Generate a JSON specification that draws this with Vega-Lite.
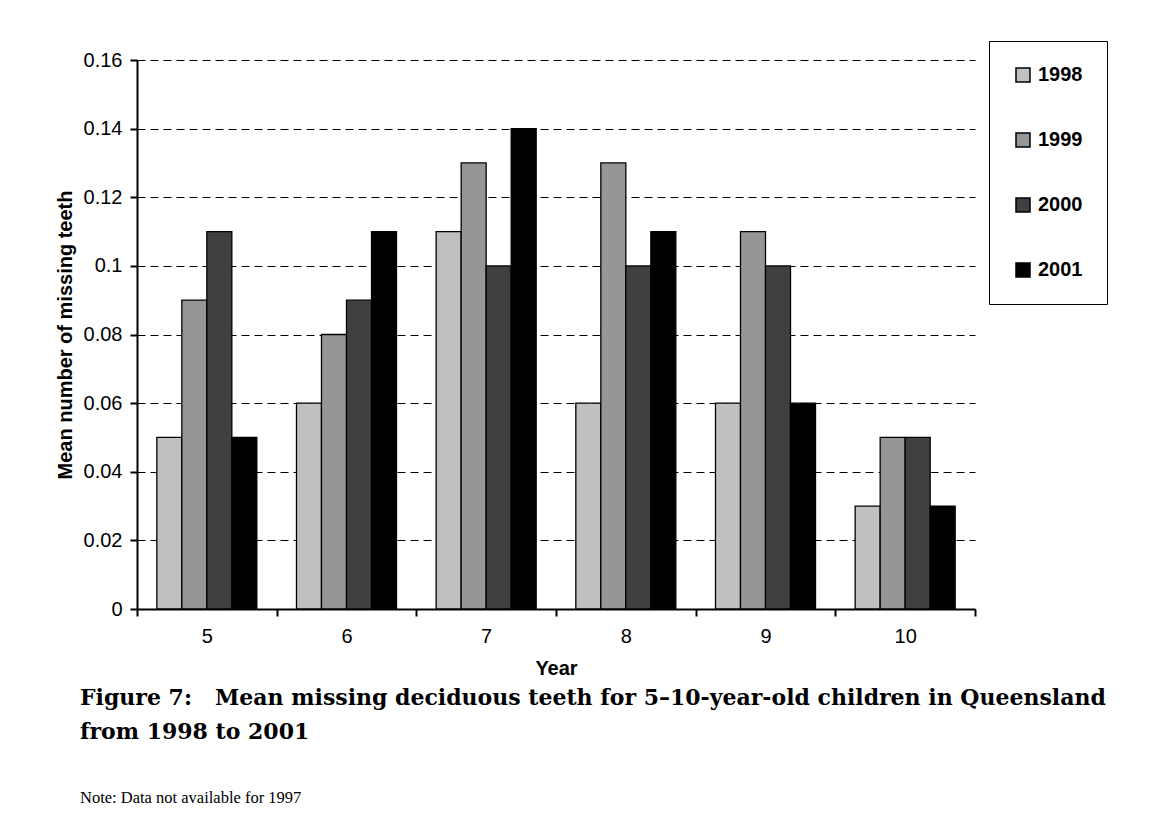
{
  "$schema": "https://vega.github.io/schema/vega-lite/v6.json",
  "width": 838,
  "height": 549,
  "autosize": {"type": "none"},
  "padding": {"left": 137, "top": 60, "right": 175, "bottom": 226},
  "background": "white",
  "data": {
    "values": [
      {"age": 5, "year": "1998", "value": 0.05},
      {"age": 5, "year": "1999", "value": 0.09},
      {"age": 5, "year": "2000", "value": 0.11},
      {"age": 5, "year": "2001", "value": 0.05},
      {"age": 6, "year": "1998", "value": 0.06},
      {"age": 6, "year": "1999", "value": 0.08},
      {"age": 6, "year": "2000", "value": 0.09},
      {"age": 6, "year": "2001", "value": 0.11},
      {"age": 7, "year": "1998", "value": 0.11},
      {"age": 7, "year": "1999", "value": 0.13},
      {"age": 7, "year": "2000", "value": 0.10},
      {"age": 7, "year": "2001", "value": 0.14},
      {"age": 8, "year": "1998", "value": 0.06},
      {"age": 8, "year": "1999", "value": 0.13},
      {"age": 8, "year": "2000", "value": 0.10},
      {"age": 8, "year": "2001", "value": 0.11},
      {"age": 9, "year": "1998", "value": 0.06},
      {"age": 9, "year": "1999", "value": 0.11},
      {"age": 9, "year": "2000", "value": 0.10},
      {"age": 9, "year": "2001", "value": 0.06},
      {"age": 10, "year": "1998", "value": 0.03},
      {"age": 10, "year": "1999", "value": 0.05},
      {"age": 10, "year": "2000", "value": 0.05},
      {"age": 10, "year": "2001", "value": 0.03}
    ]
  },
  "config": {
    "view": {"stroke": null},
    "axis": {
      "labelFont": "Liberation Sans",
      "labelFontSize": 20,
      "labelColor": "black",
      "titleFont": "Liberation Sans",
      "titleFontSize": 20,
      "titleFontWeight": "bold",
      "titleColor": "black",
      "domainColor": "black",
      "domainWidth": 2,
      "tickColor": "black",
      "tickWidth": 2,
      "tickSize": 7
    }
  },
  "mark": {"type": "bar", "stroke": "black", "strokeWidth": 1.3},
  "encoding": {
    "x": {
      "field": "age",
      "type": "ordinal",
      "sort": [5, 6, 7, 8, 9, 10],
      "scale": {"paddingInner": 0, "paddingOuter": 0},
      "axis": {
        "title": "Year",
        "labelAngle": 0,
        "tickBand": "extent",
        "labelPadding": 10,
        "titlePadding": 12
      }
    },
    "xOffset": {
      "field": "year",
      "type": "nominal",
      "sort": ["1998", "1999", "2000", "2001"],
      "scale": {"paddingInner": 0, "paddingOuter": 0.793}
    },
    "y": {
      "field": "value",
      "type": "quantitative",
      "scale": {"domain": [0, 0.16], "nice": false},
      "axis": {
        "title": "Mean number of missing teeth",
        "values": [0, 0.02, 0.04, 0.06, 0.08, 0.1, 0.12, 0.14, 0.16],
        "format": "~g",
        "grid": true,
        "gridColor": "black",
        "gridDash": [8, 5],
        "gridWidth": 1,
        "labelPadding": 8,
        "titlePadding": 8
      }
    },
    "fill": {
      "field": "year",
      "type": "nominal",
      "scale": {
        "domain": ["1998", "1999", "2000", "2001"],
        "range": ["#c0c0c0", "#969696", "#404040", "#000000"]
      },
      "legend": {
        "orient": "none",
        "legendX": 852,
        "legendY": -19,
        "title": null,
        "strokeColor": "black",
        "fillColor": "white",
        "padding": 24,
        "rowPadding": 45,
        "symbolType": "square",
        "symbolSize": 196,
        "symbolStrokeColor": "black",
        "symbolStrokeWidth": 1.5,
        "labelFont": "Liberation Sans",
        "labelFontSize": 20,
        "labelFontWeight": "bold",
        "labelColor": "black",
        "labelOffset": 5
      }
    }
  },
  "title": {
    "text": ["Figure 7:\u00a0\u00a0\u00a0Mean missing deciduous teeth for 5–10-year-old children in Queensland", "from 1998 to 2001"],
    "subtitle": "Note: Data not available for 1997",
    "orient": "bottom",
    "anchor": "start",
    "frame": "group",
    "font": "DejaVu Serif",
    "fontSize": 22,
    "fontWeight": "bold",
    "lineHeight": 34,
    "color": "black",
    "subtitleFont": "Liberation Serif",
    "subtitleFontSize": 16.5,
    "subtitleColor": "black",
    "subtitlePadding": 46,
    "offset": 10,
    "dx": -57
  }
}
